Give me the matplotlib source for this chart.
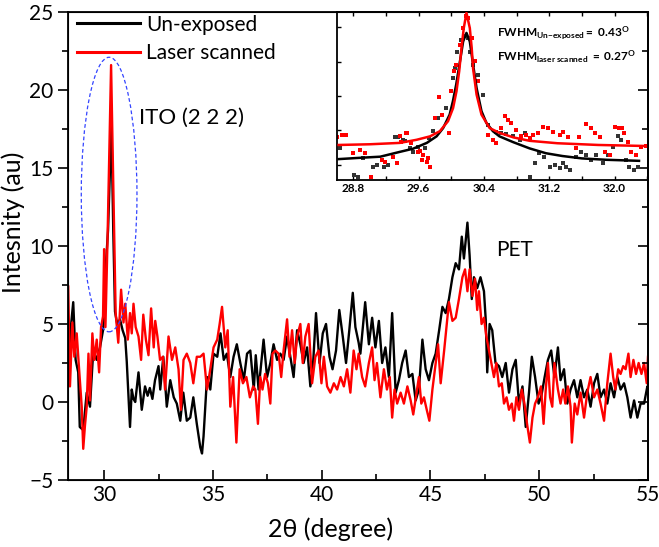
import matplotlib
matplotlib.use("Agg")
import matplotlib.pyplot as plt
from matplotlib.patches import Ellipse
from matplotlib.ticker import MultipleLocator

plt.rcParams['font.family'] = ['Lato', 'DejaVu Sans']
plt.rcParams['mathtext.fontset'] = 'custom'
plt.rcParams['mathtext.rm'] = 'Lato'
plt.rcParams['mathtext.it'] = 'Lato:italic'
plt.rcParams['mathtext.bf'] = 'Lato:bold'
plt.rcParams['mathtext.sf'] = 'Lato'

# ---------------- main pattern: Un-exposed ----------------
unexp_x = [28.35, 28.45, 28.58, 28.69, 28.81, 28.88, 29.04, 29.12, 29.2, 29.35, 29.5, 29.66, 29.81, 29.95,
           30.0, 30.08, 30.18, 30.26, 30.33, 30.42, 30.5, 30.6, 30.73, 30.85, 30.97, 31.04, 31.19, 31.27,
           31.35, 31.43, 31.58, 31.73, 31.88, 32.0, 32.1, 32.22, 32.34, 32.5, 32.58, 32.72, 32.88, 33.04,
           33.2, 33.34, 33.5, 33.64, 33.8, 33.96, 34.1, 34.26, 34.42, 34.5, 34.57, 34.73, 34.88, 35.03,
           35.2, 35.35, 35.5, 35.64, 35.8, 35.95, 36.1, 36.26, 36.42, 36.57, 36.72, 36.88, 36.97, 37.1,
           37.33, 37.49, 37.64, 37.79, 37.95, 38.1, 38.25, 38.41, 38.56, 38.71, 38.87, 39.02, 39.17, 39.33,
           39.48, 39.59, 39.74, 39.9, 40.05, 40.2, 40.36, 40.5, 40.66, 40.81, 40.97, 41.12, 41.27, 41.43,
           41.55, 41.7, 41.78, 42.0, 42.17, 42.32, 42.47, 42.63, 42.78, 42.93, 43.09, 43.24, 43.4, 43.55,
           43.7, 43.86, 44.01, 44.17, 44.32, 44.47, 44.63, 44.78, 44.93, 45.09, 45.24, 45.4, 45.55, 45.7,
           45.85, 46.01, 46.16, 46.31, 46.44, 46.54, 46.7, 46.8, 46.9, 47.0, 47.15, 47.3, 47.46, 47.54,
           47.61, 47.72, 47.84, 47.99, 48.15, 48.3, 48.46, 48.61, 48.77, 48.92, 49.07, 49.23, 49.38, 49.53,
           49.66, 49.81, 49.97, 50.1, 50.25, 50.4, 50.55, 50.7, 50.86, 50.98, 51.14, 51.29, 51.44, 51.6,
           51.75, 51.9, 52.06, 52.21, 52.36, 52.52, 52.67, 52.82, 52.98, 53.13, 53.28, 53.44, 53.59, 53.74,
           53.9, 54.05, 54.2, 54.36, 54.51, 54.66, 54.82, 54.97, 55.0]
unexp_y = [2.0, 4.5, 6.4, 2.7, 1.9, -1.6, -1.8, -0.6, 0.6, -0.3, 3.3, 2.7, 3.5, 4.6,
           5.5, 8.8, 11.0, 14.5, 18.2, 11.0, 5.8, 5.0, 5.3, 4.6, 4.1, 2.6, -1.6, 0.8,
           0.2, 0.0, 1.9, -0.5, 1.0, 0.4, 0.9, 0.2, 1.4, 2.3, 0.8, 2.9, -0.3, 1.4,
           0.3, -0.1, -1.2, 0.6, -1.2, -1.0, 0.3, -1.4, -2.9, -3.3, -2.2, 1.6, 0.8, 3.1,
           2.9, 4.4, 2.7, 3.1, 1.6, 2.9, 3.7, 2.5, 1.4, 3.1, 3.3, 0.8, 3.0, 0.8,
           4.0, 1.6, 2.5, 3.7, 2.7, 3.1, 2.7, 4.2, 2.9, 1.6, 4.6, 3.7, 2.5, 3.5,
           1.0, 2.1, 5.7, 2.5, 4.4, 5.0, 2.9, 2.1, 3.3, 5.9, 4.2, 2.5, 4.6, 7.0,
           4.8, 3.8, 3.1, 6.4, 3.7, 5.4, 3.5, 5.2, 2.5, 3.5, 1.6, 5.7, 0.6, 1.4,
           2.5, 3.3, 1.6, 1.8, 0.1, 0.8, 4.0, 2.1, 1.4, 2.5, 3.1, 4.6, 6.1, 5.7,
           6.6, 8.0, 8.9, 8.5, 10.6, 9.2, 11.5, 9.4, 6.6, 8.0, 7.3, 8.0, 7.1, 5.3,
           1.9, 5.0, 4.6, 2.5, 2.3, 1.6, 2.5, 0.6, 2.1, 2.7, -0.1, 1.0, -1.6, 0.6,
           2.9, 1.6, -0.1, 0.4, 1.6, 2.7, 3.3, 1.6, 3.5, 1.4, 2.1, -0.1, 0.8, 1.4,
           0.3, 1.4, 0.3, 0.8, -0.3, 1.2, 1.8, 0.3, 0.8, -0.1, 1.2, 0.3, 1.6, 0.8,
           1.2, 0.3, -1.0, 0.1, -1.0, -0.1, -0.1, 1.0, 0.8]

# ---------------- main pattern: Laser scanned ----------------
laser_x = [28.35, 28.43, 28.54, 28.63, 28.74, 28.85, 28.97, 29.04, 29.12, 29.2, 29.28, 29.35, 29.46, 29.55,
           29.66, 29.77, 29.86, 29.95, 30.0, 30.06, 30.15, 30.25, 30.32, 30.38, 30.44, 30.53, 30.65, 30.78,
           30.89, 30.97, 31.09, 31.19, 31.27, 31.35, 31.45, 31.58, 31.7, 31.8, 31.92, 32.04, 32.16, 32.28,
           32.35, 32.45, 32.57, 32.7, 32.8, 32.96, 33.12, 33.27, 33.42, 33.53, 33.65, 33.8, 33.96, 34.1,
           34.26, 34.42, 34.57, 34.73, 34.88, 35.03, 35.2, 35.31, 35.42, 35.57, 35.68, 35.8, 35.93, 36.08,
           36.23, 36.38, 36.54, 36.7, 36.85, 36.95, 37.07, 37.18, 37.28, 37.4, 37.53, 37.64, 37.74, 37.87,
           38.02, 38.14, 38.25, 38.41, 38.52, 38.64, 38.76, 38.87, 39.02, 39.13, 39.25, 39.4, 39.56, 39.71,
           39.86, 39.99, 40.1, 40.25, 40.4, 40.56, 40.71, 40.87, 41.02, 41.17, 41.32, 41.47, 41.6, 41.7,
           41.86, 42.0, 42.17, 42.32, 42.43, 42.54, 42.7, 42.86, 43.0, 43.13, 43.24, 43.35, 43.47, 43.63,
           43.78, 43.94, 44.09, 44.21, 44.36, 44.47, 44.58, 44.7, 44.83, 44.95, 45.09, 45.24, 45.35, 45.47,
           45.63, 45.78, 45.85, 46.01, 46.16, 46.31, 46.47, 46.59, 46.7, 46.8, 46.93, 47.05, 47.15, 47.23,
           47.35, 47.46, 47.57, 47.69, 47.82, 47.92, 48.03, 48.15, 48.28, 48.38, 48.5, 48.61, 48.74, 48.84,
           48.95, 49.07, 49.2, 49.32, 49.44, 49.57, 49.69, 49.81, 49.94, 50.08, 50.2, 50.3, 50.4, 50.5,
           50.6, 50.7, 50.86, 50.98, 51.1, 51.2, 51.32, 51.44, 51.5, 51.63, 51.75, 51.9, 52.06, 52.21,
           52.36, 52.52, 52.67, 52.82, 52.98, 53.13, 53.28, 53.4, 53.5, 53.63, 53.74, 53.86, 53.97, 54.1,
           54.2, 54.33, 54.45, 54.57, 54.7, 54.82, 54.94, 55.0]
laser_y = [7.4, 1.0, 5.1, 2.9, 4.4, 2.1, -0.3, -3.0, -1.5, -0.3, 3.1, 0.1, 4.4, 2.7,
           4.0, 1.9, 4.8, 5.5, 9.8, 4.8, 10.0, 17.0, 21.6, 17.0, 12.5, 5.7, 3.8, 7.2,
           5.1, 6.3, 4.0, 5.7, 4.4, 6.3, 4.8, 4.2, 2.7, 5.6, 4.0, 3.0, 6.0, 3.5,
           5.2, 4.2, 2.7, 2.9, 0.8, 4.2, 2.7, 3.5, 2.1, -0.5, 2.7, 3.1, 2.5, 1.2,
           2.9, 2.9, 3.1, 0.8, 2.1, 3.5, 4.0, 5.0, 6.1, 3.5, 4.6, -0.3, 1.6, -2.6,
           2.1, 1.2, 1.6, 0.3, 1.0, 0.8, -1.4, 1.6, 0.8, 1.8, 1.2, -0.1, 3.1, 3.3,
           3.1, 1.6, 3.3, 5.3, 2.9, 4.6, 2.5, 4.2, 5.0, 2.5, 4.2, 5.0, 1.2, 2.9,
           3.3, 1.2, 2.9, 1.0, 0.6, 1.2, 0.8, 1.6, 1.0, 2.1, 0.6, 3.3, 2.1, 3.1,
           1.6, 1.0, 2.5, 3.5, 1.4, 2.5, 0.3, 2.1, 0.8, 1.6, -1.0, 0.8, -0.1, 0.6,
           -0.1, 1.0, 0.1, -0.8, 0.6, 1.6, -0.1, 0.3, -0.5, -1.2, 0.8, 2.5, 3.7, 1.2,
           3.3, 5.4, 6.4, 5.2, 5.4, 6.6, 8.0, 8.5, 7.1, 8.5, 6.8, 7.9, 5.9, 7.1,
           5.0, 5.4, 4.2, 3.3, 2.3, 1.6, 2.5, 1.0, 1.2, -0.1, 0.3, -0.5, -0.1, -1.2,
           0.3, -0.5, 0.8, -0.1, -1.4, -2.6, -1.0, -0.1, 0.3, 1.0, -1.4, 0.8, 2.5, 0.3,
           -0.3, 2.5, 0.8, -0.1, 0.8, -0.1, 1.0, -0.3, -2.6, -0.1, -0.8, 0.6, -1.0, 0.6,
           1.6, 0.3, 0.8, -0.1, -1.2, 1.2, 3.1, 1.6, 0.8, 2.1, 1.8, 2.3, 2.1, 3.1,
           1.6, 2.7, 1.8, 2.5, 1.8, 2.5, 1.2, 2.9]

# ---------------- inset: measured points ----------------
in_unexp_x = [28.64, 28.81, 28.86, 28.92, 29.045, 29.085, 29.17, 29.23, 29.31, 29.35, 29.41, 29.43, 29.49,
              29.53, 29.595, 29.68, 29.73, 29.78, 29.84, 29.94, 30.02, 30.04, 30.07, 30.125, 30.165, 30.21,
              30.23, 30.27, 30.33, 30.39, 30.45, 30.55, 30.614, 30.675, 30.756, 30.84, 30.90, 30.96, 31.02,
              31.08, 31.14, 31.205, 31.265, 31.33, 31.37, 31.41, 31.45, 31.53, 31.59, 31.65, 31.71, 31.775,
              31.86, 31.92, 31.98, 32.04, 32.08, 32.14, 32.18, 32.24, 32.285]
in_unexp_y = [0.48, -0.29, -0.34, 0.19, -0.05, 0.0, -0.05, 0.0, 0.82, 0.82, 0.73, 0.69, 0.48,
              0.39, 0.53, 0.49, 0.78, 0.98, 1.36, 1.65, 2.52, 2.81, 3.29, 3.63, 3.73, 3.68,
              3.29, 2.91, 2.62, 2.04, 1.17, 0.97, 0.93, 0.90, 0.83, 0.73, 0.93, -0.34, 0.05,
              0.34, 0.24, -0.05, 0.0, -0.10, 0.05, -0.05, -0.14, 0.24, 0.39, 0.29, 0.15, 0.29,
              0.05, 0.29, 0.53, 0.84, 0.73, 0.15, -0.05, -0.14, -0.05]
in_laser_x = [28.605, 28.658, 28.71, 28.79, 28.88, 28.94, 29.02, 29.15, 29.19, 29.29, 29.33, 29.37, 29.39,
              29.45, 29.46, 29.51, 29.595, 29.615, 29.64, 29.655, 29.70, 29.72, 29.74, 29.80, 29.85, 29.89,
              29.97, 30.00, 30.03, 30.06, 30.104, 30.145, 30.18, 30.21, 30.25, 30.29, 30.33, 30.45, 30.51,
              30.55, 30.614, 30.655, 30.695, 30.736, 30.797, 30.858, 30.92, 30.96, 31.0, 31.06, 31.12,
              31.185, 31.245, 31.33, 31.37, 31.43, 31.53, 31.57, 31.65, 31.71, 31.755, 31.82, 31.88, 31.94,
              32.0, 32.05, 32.09, 32.12, 32.16, 32.2, 32.26, 32.325, 32.385]
in_laser_y = [0.82, 0.87, 0.87, 0.34, 0.44, 0.34, -0.34, 0.15, 0.10, 0.24, 0.05, 0.83, 0.68,
              0.93, 0.94, 0.63, 0.39, 0.40, 0.15, 0.30, 0.10, 0.20, -0.05, 1.36, 1.96, 1.46,
              0.93, 2.14, 2.72, 2.91, 3.49, 3.97, 4.31, 4.26, 3.68, 3.01, 2.43, 0.88, 0.73,
              0.64, 1.07, 1.41, 1.31, 1.22, 1.02, 0.83, 0.88, 0.77, 0.87, 0.92, 1.11,
              1.06, 0.97, 0.87, 0.97, 0.82, 0.48, 0.82, 1.19, 1.06, 0.92, 0.82, 0.39, 0.29,
              1.11, 1.06, 1.06, 0.92, 0.68, 0.39, 0.29, 0.53, 0.55]

# ---------------- inset: fitted curves ----------------
fit_unexp_x = [28.62, 28.9, 29.13, 29.37, 29.53, 29.70, 29.82, 29.90, 29.98, 30.02, 30.06, 30.10, 30.145,
               30.186, 30.227, 30.267, 30.31, 30.37, 30.43, 30.51, 30.59, 30.76, 30.96, 31.16, 31.36,
               31.6, 31.9, 32.3]
fit_unexp_y = [0.17, 0.21, 0.24, 0.38, 0.47, 0.64, 0.83, 1.07, 1.46, 1.85, 2.33, 2.91, 3.58,
               3.83, 3.58, 2.91, 2.23, 1.56, 1.22, 0.98, 0.83, 0.66, 0.48, 0.34, 0.26,
               0.19, 0.15, 0.12]
fit_laser_x = [28.62, 29.0, 29.37, 29.575, 29.74, 29.86, 29.96, 30.022, 30.064, 30.097, 30.125, 30.153,
               30.186, 30.227, 30.25, 30.267, 30.31, 30.37, 30.47, 30.59, 30.76, 30.96, 31.3, 31.8, 32.38]
fit_laser_y = [0.58, 0.60, 0.64, 0.73, 0.83, 0.98, 1.27, 1.65, 2.14, 2.72, 3.39, 3.97,
               4.41, 3.97, 3.40, 2.80, 2.04, 1.46, 1.07, 0.93, 0.80, 0.70, 0.63, 0.58, 0.55]

series_labels = ['Un-exposed', 'Laser scanned']
x_ticks = [30, 35, 40, 45, 50, 55]
y_ticks = [-5, 0, 5, 10, 15, 20, 25]
inset_x_ticks = [28.8, 29.6, 30.4, 31.2, 32.0]

fig = plt.figure(figsize=(6.59, 5.47), dpi=100)
ax = fig.add_axes([0.1032, 0.1225, 0.8801, 0.8555])

ax.plot(unexp_x, unexp_y, color='black', lw=1.7, label=series_labels[0], zorder=3)
ax.plot(laser_x, laser_y, color='#ff0000', lw=1.7, label=series_labels[1], zorder=4)

ax.set_xlim(28.34, 55)
ax.set_ylim(-5, 25)
ax.set_xticks(x_ticks)
ax.set_yticks(y_ticks)
ax.xaxis.set_minor_locator(MultipleLocator(2.5))
ax.yaxis.set_minor_locator(MultipleLocator(2.5))
ax.tick_params(axis='both', which='major', labelsize=15, width=1.2, length=7)
ax.tick_params(axis='both', which='minor', width=1.2, length=4)
ax.tick_params(axis='x', which='both', direction='in', top=False)
ax.tick_params(axis='y', which='both', direction='out', right=False)
for s in ax.spines.values():
    s.set_linewidth(1.3)

# right-side inward ticks
axr = ax.twinx()
axr.set_ylim(-5, 25)
axr.set_yticks(y_ticks)
axr.yaxis.set_minor_locator(MultipleLocator(2.5))
axr.tick_params(axis='y', which='major', direction='in', length=7, width=1.2, labelright=False)
axr.tick_params(axis='y', which='minor', direction='in', length=4, width=1.2)
axr.spines['right'].set_linewidth(1.3)

ax.set_xlabel('2θ (degree)', fontsize=18)
ax.xaxis.set_label_coords(0.452, -0.08)
ax.set_ylabel('Intesnity (au)', fontsize=18)
ax.yaxis.set_label_coords(-0.075, 0.55)

leg = ax.legend(loc='upper left', bbox_to_anchor=(0.012, 1.0), frameon=False, fontsize=15,
                handlelength=3.0, handletextpad=0.3, labelspacing=0.42, borderaxespad=0.0,
                borderpad=0.12)
for h in leg.get_lines():
    h.set_linewidth(2.2)

ell = Ellipse((30.23, 13.3), width=2.56, height=17.6, fill=False, edgecolor='#3344ff',
              linestyle=(0, (3, 2)), lw=0.9, zorder=5)
ax.add_patch(ell)
ax.text(31.61, 18.2, 'ITO (2 2 2)', fontsize=16, va='center', ha='left')
ax.text(48.03, 9.74, 'PET', fontsize=15, va='center', ha='left')

# ---------------- inset ----------------
axi = fig.add_axes([0.5114, 0.671, 0.4719, 0.307])
axi.set_facecolor('none')
axi.scatter(in_unexp_x, in_unexp_y, s=5, marker='s', color='#333333', linewidths=0, zorder=2)
axi.scatter(in_laser_x, in_laser_y, s=5, marker='s', color='#ff0000', linewidths=0, zorder=2)
axi.plot(fit_unexp_x, fit_unexp_y, color='black', lw=1.8, zorder=3)
axi.plot(fit_laser_x, fit_laser_y, color='#ff0000', lw=1.8, zorder=4)
axi.set_xlim(28.6, 32.41)
axi.set_ylim(-0.435, 4.435)
axi.set_xticks(inset_x_ticks)
axi.set_xticklabels([f'{v:.1f}' for v in inset_x_ticks], fontsize=8.5, fontweight='bold')
axi.xaxis.set_minor_locator(MultipleLocator(0.4))
axi.set_yticks([0, 1, 2, 3, 4])
axi.tick_params(axis='y', which='both', direction='in', labelleft=False, length=3, width=1)
axi.tick_params(axis='x', which='both', direction='in', top=True, length=3, width=1, pad=2)
for s in axi.spines.values():
    s.set_linewidth(1.3)
axi.text(30.557, 3.83, r'$\mathbf{FWHM_{Un{-}exposed}{=}\ 0.43^{O}}$', fontsize=8.6, va='center', ha='left')
axi.text(30.557, 3.13, r'$\mathbf{FWHM_{laser\ scanned}\ {=}\ 0.27^{O}}$', fontsize=8.6, va='center', ha='left')

fig.savefig('out.png', dpi=100)
